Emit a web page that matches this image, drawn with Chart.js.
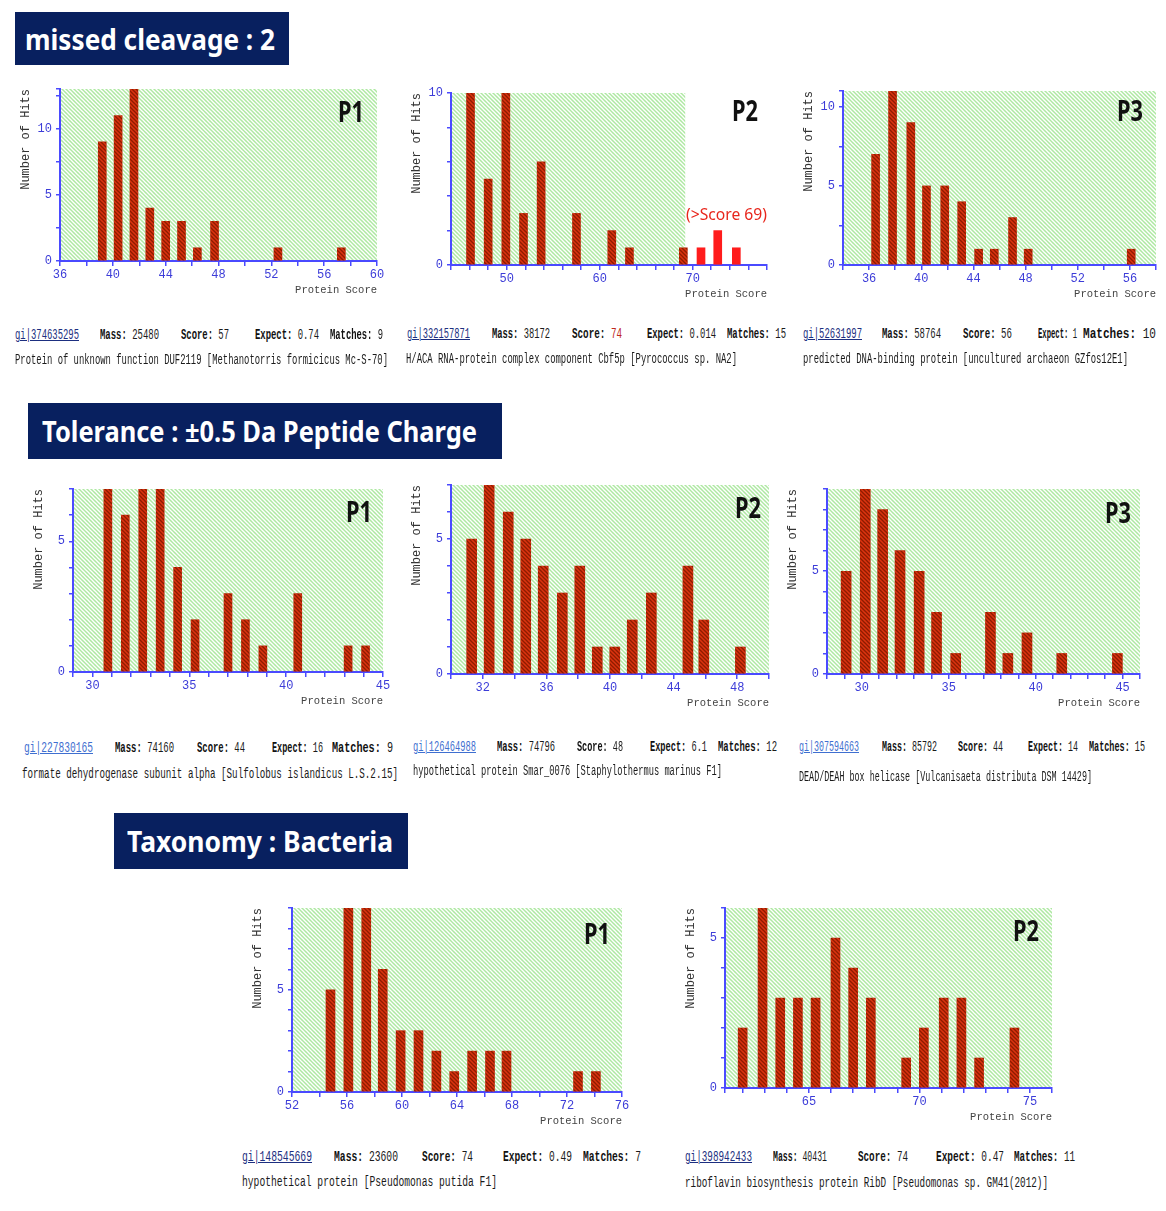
<!DOCTYPE html>
<html>
<head>
<meta charset="utf-8">
<script src="https://cdn.jsdelivr.net/npm/chart.js@4/dist/chart.umd.min.js"></script>
<style>
html,body{margin:0;padding:0;background:#fff;}
#root{position:relative;width:1166px;height:1211px;overflow:hidden;background:#fff;}
canvas{position:absolute;}
.t{position:absolute;white-space:nowrap;transform-origin:0 50%;line-height:1.15;}
.box{position:absolute;background:#08205f;}
.info{font-family:'Liberation Mono',monospace;font-size:15px;color:#1a1a1a;}
.info2{font-family:'Liberation Mono',monospace;font-size:14px;color:#1a1a1a;}
.info b{font-weight:bold;color:#111;}
.gi{text-decoration:underline;}
</style>
</head>
<body>
<div id="root"></div>
<script>
// ---------------- DATA ----------------
// Panel A: missed cleavage : 2
const a1Scores = [39.2, 40.4, 41.6, 42.8, 44.0, 45.2, 46.4, 47.7, 52.5, 57.3];
const a1Hits   = [9, 11, 13, 4, 3, 3, 1, 3, 1, 1];
const a1XTicks = [36,38,40,42,44,46,48,50,52,54,56,58,60];
const a1XLabels = [36,40,44,48,52,56,60];
const a1YTicks = [0,2.5,5,7.5,10,12.5,13];
const a1YLabels = [0,5,10];

const a2Scores = [46.1, 48.0, 49.9, 51.8, 53.7, 57.5, 61.3, 63.2, 69.0, 70.9, 72.7, 74.7];
const a2Hits   = [10, 5, 10, 3, 6, 3, 2, 1, 1, 1, 2, 1];
const a2XTicks = [44,46,48,50,52,54,56,58,60,62,64,66,68,70,72,74,76,78];
const a2XLabels = [50,60,70];
const a2YTicks = [0,2,4,6,8,10];
const a2YLabels = [0,5,10];
const a2Threshold = 69.2;

const a3Scores = [36.5, 37.8, 39.2, 40.4, 41.8, 43.1, 44.4, 45.6, 47.0, 48.2, 56.1];
const a3Hits   = [7, 11, 9, 5, 5, 4, 1, 1, 3, 1, 1];
const a3XTicks = [34,36,38,40,42,44,46,48,50,52,54,56,58];
const a3XLabels = [36,40,44,48,52,56];
const a3YTicks = [0,2.5,5,7.5,10,11];
const a3YLabels = [0,5,10];

// Panel B: Tolerance
const b1Scores = [30.8, 31.7, 32.6, 33.5, 34.4, 35.3, 37.0, 37.9, 38.8, 40.6, 43.2, 44.1];
const b1Hits   = [7, 6, 7, 7, 4, 2, 3, 2, 1, 3, 1, 1];
const b1XTicks = [29,30,31,32,33,34,35,36,37,38,39,40,41,42,43,44,45];
const b1XLabels = [30,35,40,45];
const b1YTicks = [0,1,2,3,4,5,6,7];
const b1YLabels = [0,5];

const b2Scores = [31.3, 32.4, 33.6, 34.7, 35.8, 37.0, 38.1, 39.2, 40.3, 41.4, 42.6, 44.9, 45.9, 48.2];
const b2Hits   = [5, 7, 6, 5, 4, 3, 4, 1, 1, 2, 3, 4, 2, 1];
const b2XTicks = [30,32,34,36,38,40,42,44,46,48,50];
const b2XLabels = [32,36,40,44,48];
const b2YTicks = [0,1,2,3,4,5,6,7];
const b2YLabels = [0,5];

const b3Scores = [29.1, 30.2, 31.2, 32.2, 33.3, 34.3, 35.4, 37.4, 38.4, 39.5, 41.5, 44.7];
const b3Hits   = [5, 9, 8, 6, 5, 3, 1, 3, 1, 2, 1, 1];
const b3XTicks = [28,29,30,31,32,33,34,35,36,37,38,39,40,41,42,43,44,45,46];
const b3XLabels = [30,35,40,45];
const b3YTicks = [0,1,2,3,4,5,6,7,8,9];
const b3YLabels = [0,5];

// Panel C: Taxonomy : Bacteria
const c1Scores = [54.8, 56.1, 57.4, 58.6, 59.9, 61.2, 62.5, 63.8, 65.1, 66.4, 67.6, 72.8, 74.1];
const c1Hits   = [5, 9, 9, 6, 3, 3, 2, 1, 2, 2, 2, 1, 1];
const c1XTicks = [52,54,56,58,60,62,64,66,68,70,72,74,76];
const c1XLabels = [52,56,60,64,68,72,76];
const c1YTicks = [0,1,2,3,4,5,6,7,8,9];
const c1YLabels = [0,5];

const c2Scores = [62.0, 62.9, 63.7, 64.5, 65.3, 66.2, 67.0, 67.8, 69.4, 70.2, 71.1, 71.9, 72.7, 74.3];
const c2Hits   = [2, 6, 3, 3, 3, 5, 4, 3, 1, 2, 3, 3, 1, 2];
const c2XTicks = [61.2,62,63,64,65,66,67,68,69,70,71,72,73,74,75,76];
const c2XLabels = [65,70,75];
const c2YTicks = [0,1,2,3,4,5,6];
const c2YLabels = [0,5];

// Protein info texts: [gi, mass, score, expect, matches, description]
const a1Info = ['gi|374635295','25480','57','0.74','9','Protein of unknown function DUF2119 [Methanotorris formicicus Mc-S-70]'];
const a2Info = ['gi|332157871','38172','74','0.014','15','H/ACA RNA-protein complex component Cbf5p [Pyrococcus sp. NA2]'];
const a3Info = ['gi|52631997','58764','56','1','10','predicted DNA-binding protein [uncultured archaeon GZfos12E1]'];
const b1Info = ['gi|227830165','74160','44','16','9','formate dehydrogenase subunit alpha [Sulfolobus islandicus L.S.2.15]'];
const b2Info = ['gi|126464988','74796','48','6.1','12','hypothetical protein Smar_0076 [Staphylothermus marinus F1]'];
const b3Info = ['gi|307594663','85792','44','14','15','DEAD/DEAH box helicase [Vulcanisaeta distributa DSM 14429]'];
const c1Info = ['gi|148545669','23600','74','0.49','7','hypothetical protein [Pseudomonas putida F1]'];
const c2Info = ['gi|398942433','40431','74','0.47','11','riboflavin biosynthesis protein RibD [Pseudomonas sp. GM41(2012)]'];

const headers = ['missed cleavage : 2', 'Tolerance : \u00B10.5 Da Peptide Charge', 'Taxonomy : Bacteria'];

// ---------------- DRAWING ----------------
const root = document.getElementById('root');
const AXIS = '#4a4aff';
const TICKTXT = '#3c3cd8';

function makePattern(base, line, lw) {
  const c = document.createElement('canvas');
  c.width = 4; c.height = 4;
  const g = c.getContext('2d');
  g.fillStyle = base; g.fillRect(0,0,4,4);
  g.strokeStyle = line; g.lineWidth = lw;
  for (let k = -1; k <= 1; k++) {
    g.beginPath(); g.moveTo(0 - 1, 4*k - 1); g.lineTo(4 + 1, 4*k + 5); g.stroke();
  }
  return g.createPattern(c, 'repeat');
}
const greenPat = makePattern('#aee8a2', '#ffffff', 1.3);
const barPat = makePattern('#dc3410', '#8e1c00', 1.3);

const bgPlugin = {
  id: 'hatchBg',
  beforeDraw(chart, args, opts) {
    const {ctx, chartArea: a, scales: {x}} = chart;
    const end = (opts && opts.greenEnd != null) ? x.getPixelForValue(opts.greenEnd) : a.right;
    ctx.save();
    ctx.fillStyle = greenPat;
    ctx.fillRect(a.left, a.top, end - a.left, a.bottom - a.top);
    ctx.restore();
  }
};

function has(arr, v) { return arr.some(a => Math.abs(a - v) < 1e-6); }

function panel(g, scores, hits, xt, xl, yt, yl, barW, threshold) {
  const yW = 48, padL = 4, padT = 12, padR = 14, xH = 42;
  const cl = g.L - yW - padL, ct = g.T - padT;
  const cw = g.R + padR - cl, ch = g.B + xH - ct;
  const cv = document.createElement('canvas');
  cv.width = cw; cv.height = ch;
  cv.style.left = cl + 'px'; cv.style.top = ct + 'px';
  cv.style.width = cw + 'px'; cv.style.height = ch + 'px';
  root.appendChild(cv);
  const tickFont = {family: 'Liberation Mono', size: 12};
  new Chart(cv, {
    type: 'bar',
    data: {datasets: [{
      data: scores.map((s, i) => ({x: s, y: hits[i]})),
      backgroundColor: c => (threshold != null && c.raw && c.raw.x > threshold + 0.3) ? '#ff1c1c' : barPat,
      borderWidth: 0,
      barThickness: barW
    }]},
    options: {
      responsive: false, animation: false, devicePixelRatio: 1,
      layout: {padding: {left: padL, top: padT, right: padR, bottom: 0}},
      plugins: {legend: {display: false}, tooltip: {enabled: false}, hatchBg: {greenEnd: threshold}},
      scales: {
        x: {
          type: 'linear', min: xt[0], max: xt[xt.length - 1], offset: false,
          afterBuildTicks: s => { s.ticks = xt.map(v => ({value: v})); },
          afterFit: s => { s.height = xH; },
          ticks: {autoSkip: false, maxRotation: 0, color: TICKTXT, font: tickFont, padding: 2,
                  callback: v => has(xl, v) ? String(v) : ''},
          grid: {offset: false, drawOnChartArea: false, drawTicks: true, tickLength: 5, color: AXIS, lineWidth: 1.5},
          border: {color: AXIS, width: 2},
          title: {display: true, text: 'Protein Score', align: 'end', color: '#444',
                  font: {family: 'Liberation Mono', size: 10.5}, padding: {top: 0, bottom: 6}}
        },
        y: {
          min: 0, max: yt[yt.length - 1],
          afterBuildTicks: s => { s.ticks = yt.map(v => ({value: v})); },
          afterFit: s => { s.width = yW; },
          ticks: {autoSkip: false, color: TICKTXT, font: tickFont, padding: 4,
                  callback: v => has(yl, v) ? String(v) : ''},
          grid: {drawOnChartArea: false, drawTicks: true, tickLength: 4, color: AXIS, lineWidth: 1.5},
          border: {color: AXIS, width: 2},
          title: {display: true, text: 'Number of Hits', align: 'end', color: '#333',
                  font: {family: 'Liberation Mono', size: 12}, padding: {top: 7, bottom: 0}}
        }
      }
    },
    plugins: [bgPlugin]
  });
}

function put(html, x, y, w, cls, css) {
  const d = document.createElement('div');
  d.className = 't ' + (cls || '');
  d.innerHTML = html;
  if (css) Object.assign(d.style, css);
  d.style.left = x + 'px';
  root.appendChild(d);
  const r = d.getBoundingClientRect();
  d.style.top = (y - r.height / 2) + 'px';
  if (w) d.style.transform = 'scaleX(' + (w / r.width) + ')';
  return d;
}

function info(inf, f, y1, y2, giColor, scoreColor) {
  put('<span class="gi" style="color:' + giColor + '">' + inf[0] + '</span>', f[0][0], y1, f[0][1] - f[0][0], 'info');
  put('<b>Mass:</b> ' + inf[1], f[1][0], y1, f[1][1] - f[1][0], 'info');
  put('<b>Score:</b> <span style="color:' + (scoreColor || '#1a1a1a') + '">' + inf[2] + '</span>', f[2][0], y1, f[2][1] - f[2][0], 'info');
  put('<b>Expect:</b> ' + inf[3], f[3][0], y1, f[3][1] - f[3][0], 'info');
  put('<b>Matches:</b> ' + inf[4], f[4][0], y1, f[4][1] - f[4][0], 'info');
  put(inf[5], f[5][0], y2, f[5][1] - f[5][0], 'info2');
}

function header(text, bx, by, bw, bh, tx, tw) {
  const b = document.createElement('div');
  b.className = 'box';
  Object.assign(b.style, {left: bx + 'px', top: by + 'px', width: bw + 'px', height: bh + 'px'});
  root.appendChild(b);
  put(text, tx, by + bh / 2, tw, '', {fontFamily: "'Noto Sans', 'Open Sans', sans-serif", fontWeight: 'bold', fontSize: '29px', color: '#fff'});
}

function plabel(text, cx, cy) {
  put(text, cx - 13, cy, 26, '', {fontFamily: "'Noto Sans', sans-serif", fontWeight: 'bold', fontSize: '29px', color: '#111'});
}

// Headers
header(headers[0], 15, 12, 274, 53, 25, 250);
header(headers[1], 28, 403, 474, 56, 42, 435);
header(headers[2], 114, 813, 294, 56, 127, 266);

// Charts
panel({L: 60, R: 377, T: 89, B: 261}, a1Scores, a1Hits, a1XTicks, a1XLabels, a1YTicks, a1YLabels, 8);
panel({L: 451, R: 767, T: 93, B: 265}, a2Scores, a2Hits, a2XTicks, a2XLabels, a2YTicks, a2YLabels, 8, a2Threshold);
panel({L: 843, R: 1156, T: 91, B: 265}, a3Scores, a3Hits, a3XTicks, a3XLabels, a3YTicks, a3YLabels, 8);
panel({L: 73, R: 383, T: 489, B: 672}, b1Scores, b1Hits, b1XTicks, b1XLabels, b1YTicks, b1YLabels, 8);
panel({L: 451, R: 769, T: 485, B: 674}, b2Scores, b2Hits, b2XTicks, b2XLabels, b2YTicks, b2YLabels, 10);
panel({L: 827, R: 1140, T: 489, B: 674}, b3Scores, b3Hits, b3XTicks, b3XLabels, b3YTicks, b3YLabels, 10);
panel({L: 292, R: 622, T: 908, B: 1092}, c1Scores, c1Hits, c1XTicks, c1XLabels, c1YTicks, c1YLabels, 9);
panel({L: 725, R: 1052, T: 908, B: 1088}, c2Scores, c2Hits, c2XTicks, c2XLabels, c2YTicks, c2YLabels, 9);

// P labels
plabel('P1', 351, 111); plabel('P2', 745, 110); plabel('P3', 1130, 110);
plabel('P1', 359, 511); plabel('P2', 748, 507); plabel('P3', 1118, 512);
plabel('P1', 597, 933); plabel('P2', 1026, 930);

put('(&gt;Score 69)', 686, 214, 81, '', {fontFamily: "'Noto Sans', sans-serif", fontSize: '16px', color: '#e8261c'});

// Info texts
info(a1Info, [[15,79],[100,159],[181,229],[255,319],[330,383],[15,388]], 336, 360, '#1d2f80');
info(a2Info, [[407,470],[492,550],[572,622],[647,716],[727,786],[406,737]], 335, 359, '#1d2f80', '#c0281c');
info(a3Info, [[803,862],[882,941],[963,1012],[1038,1077],[1083,1156],[803,1128]], 335, 359, '#1d2f80');
info(b1Info, [[24,93],[115,174],[197,245],[272,323],[332,393],[22,398]], 749, 774, '#3f6fd0');
info(b2Info, [[413,476],[497,555],[577,623],[650,707],[718,777],[413,722]], 748, 771, '#3f6fd0');
info(b3Info, [[799,859],[882,937],[958,1003],[1028,1078],[1089,1145],[799,1092]], 748, 777, '#3f6fd0');
info(c1Info, [[242,312],[334,398],[422,473],[503,572],[583,641],[242,497]], 1158, 1182, '#1d2f80');
info(c2Info, [[685,752],[773,827],[858,908],[936,1004],[1014,1075],[685,1048]], 1158, 1183, '#1d2f80');
</script>
</body>
</html>
